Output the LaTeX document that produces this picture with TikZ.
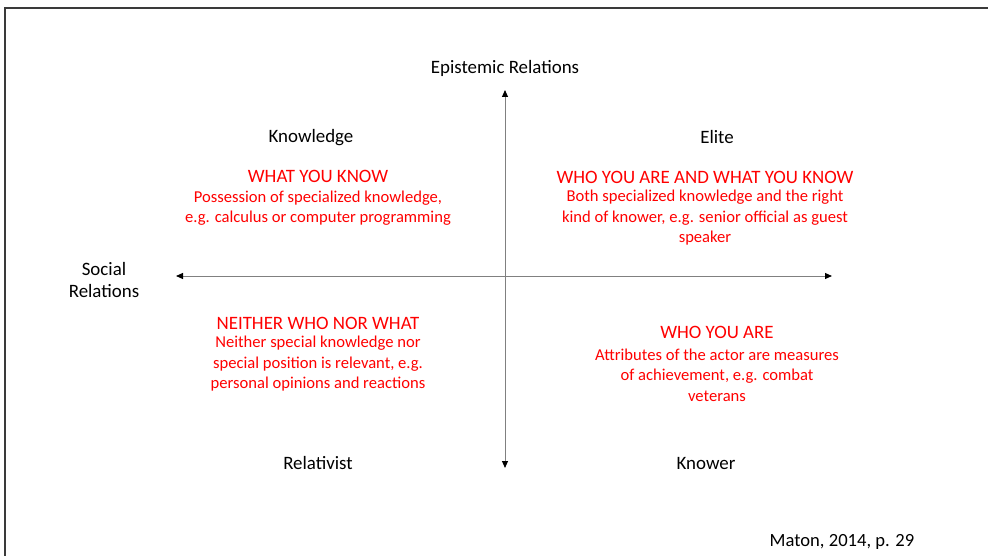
\documentclass[tikz,border=0pt]{standalone}
\usepackage{fontspec}
\setmainfont{Carlito}
\usetikzlibrary{arrows.meta}
\definecolor{redtxt}{HTML}{FF0000}
\definecolor{axisgray}{HTML}{808080}
\definecolor{framegray}{HTML}{3A3A3A}
\tikzset{
  lbl/.style={font=\fontsize{18.9}{22}\selectfont, text=black, align=center, inner sep=0pt},
  head/.style={font=\fontsize{18.9}{22}\selectfont, text=redtxt, align=center, inner sep=0pt},
  body/.style={font=\fontsize{16.6}{20.5}\selectfont, text=redtxt, align=center, inner sep=0pt},
  axis/.style={draw=axisgray, line width=1pt, -{Triangle[length=7pt,width=6pt,fill=black,color=black]}},
}
\begin{document}
\begin{tikzpicture}[x=1pt,y=-1pt]
\useasboundingbox (0,0) rectangle (988,556);
\fill[white] (0,0) rectangle (988,556);
\draw[framegray, line width=2pt] (5,556) -- (5,8) -- (988,8);

\coordinate (c) at (505,276);
\coordinate (top) at (505,90);
\coordinate (bot) at (505,468);
\coordinate (lft) at (176,276);
\coordinate (rgt) at (832,276);
\draw[axis] (c) -- (top);
\draw[axis] (c) -- (bot);
\draw[axis] (c) -- (lft);
\draw[axis] (c) -- (rgt);

\node[lbl] (er) at (505,68) {Epistemic Relations};
\node[lbl] (sr) at (104,280) {Social\\Relations};
\node[lbl] (kn) at (311,138) {Knowledge};
\node[lbl] (el) at (717,137) {Elite};
\node[lbl] (rel) at (318,463) {Relativist};
\node[lbl] (kw) at (706,463) {Knower};
\node[lbl, font=\fontsize{18.6}{22}\selectfont] (cite) at (842,542) {Maton, 2014, p. 29};

\node[head] (h1) at (318,176) {WHAT YOU KNOW};
\node[body] (b1) at (318,208) {Possession of specialized knowledge,\\e.g. calculus or computer programming};

\node[head] (h2) at (705,177) {WHO YOU ARE AND WHAT YOU KNOW};
\node[body] (b2) at (705,218) {Both specialized knowledge and the right\\kind of knower, e.g. senior official as guest\\speaker};

\node[head] (h3) at (318,323) {NEITHER WHO NOR WHAT};
\node[body] (b3) at (318,364) {Neither special knowledge nor\\special position is relevant, e.g.\\personal opinions and reactions};

\node[head] (h4) at (717,332) {WHO YOU ARE};
\node[body] (b4) at (717,375) {Attributes of the actor are measures\\of achievement, e.g. combat\\veterans};
\end{tikzpicture}
\end{document}
